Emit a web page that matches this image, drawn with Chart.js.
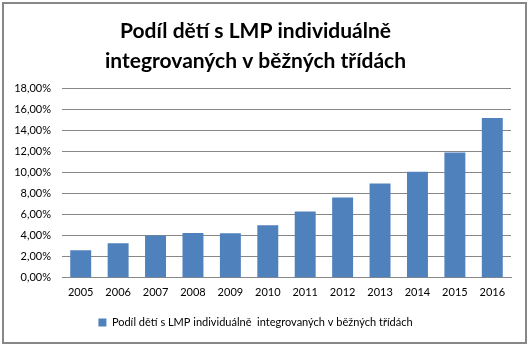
<!DOCTYPE html>
<html>
<head>
<meta charset="utf-8">
<script src="https://cdn.jsdelivr.net/npm/chart.js@4/dist/chart.umd.min.js"></script>
<style>
  html, body { margin: 0; padding: 0; background: #fff; }
  #wrap { position: relative; width: 532px; height: 348px; }
  #frame {
    position: absolute; left: 2px; top: 2px; width: 521px; height: 338px;
    border: 2px solid #878787; pointer-events: none;
  }
  canvas { position: absolute; left: 0; top: 0; }
</style>
</head>
<body>
<div id="wrap">
  <canvas id="chart" width="532" height="348"></canvas>
  <div id="frame"></div>
</div>
<script>
// Podíl dětí s LMP individuálně integrovaných v běžných třídách
const YEARS = ['2005', '2006', '2007', '2008', '2009', '2010', '2011', '2012', '2013', '2014', '2015', '2016'];
const SHARE = [0.0262, 0.0329, 0.0404, 0.0427, 0.0424, 0.0500, 0.0632, 0.0765, 0.0898, 0.1010, 0.1194, 0.1523];
const Y_TICKS = [0, 0.02, 0.04, 0.06, 0.08, 0.10, 0.12, 0.14, 0.16, 0.18];

const TITLE_LINES = ['Podíl dětí s LMP individuálně', 'integrovaných v běžných třídách'];
const SERIES_LABEL = 'Podíl dětí s LMP individuálně  integrovaných v běžných třídách';

const BAR_COLOR = '#4F81BD';
const GRID_COLOR = '#878787';
const FONT = 'Lato, "Open Sans", sans-serif';

function pct(v) {
  return (v * 100).toFixed(2).replace('.', ',') + '%';
}

new Chart(document.getElementById('chart'), {
  type: 'bar',
  data: {
    labels: YEARS,
    datasets: [{
      label: SERIES_LABEL,
      data: SHARE,
      backgroundColor: BAR_COLOR,
      borderWidth: 0,
      categoryPercentage: 1,
      barPercentage: 0.56,
    }],
  },
  options: {
    responsive: false,
    animation: false,
    layout: { padding: { left: 0, right: 21, top: 16, bottom: 10 } },
    plugins: {
      title: {
        display: true,
        text: TITLE_LINES,
        color: '#000',
        font: { family: FONT, size: 21, weight: 'bold', lineHeight: 1.45 },
        padding: { top: 0, bottom: 12 },
      },
      legend: {
        position: 'bottom',
        labels: {
          color: '#000',
          font: { family: FONT, size: 11 },
          boxWidth: 8,
          boxHeight: 8,
          padding: 10,
        },
      },
      tooltip: { enabled: false },
    },
    scales: {
      x: {
        grid: { display: false, drawTicks: false },
        border: { display: true, color: GRID_COLOR },
        ticks: { color: '#000', font: { family: FONT, size: 11 }, padding: 8, maxRotation: 0 },
      },
      y: {
        min: 0,
        max: 0.18,
        afterBuildTicks: (s) => { s.ticks = Y_TICKS.map((v) => ({ value: v })); },
        afterFit: (s) => { s.width = 62; },
        grid: { color: GRID_COLOR, drawTicks: false },
        border: { display: false },
        ticks: { color: '#000', font: { family: FONT, size: 11 }, padding: 11, callback: (v) => pct(v) },
      },
    },
  },
});
</script>
</body>
</html>
